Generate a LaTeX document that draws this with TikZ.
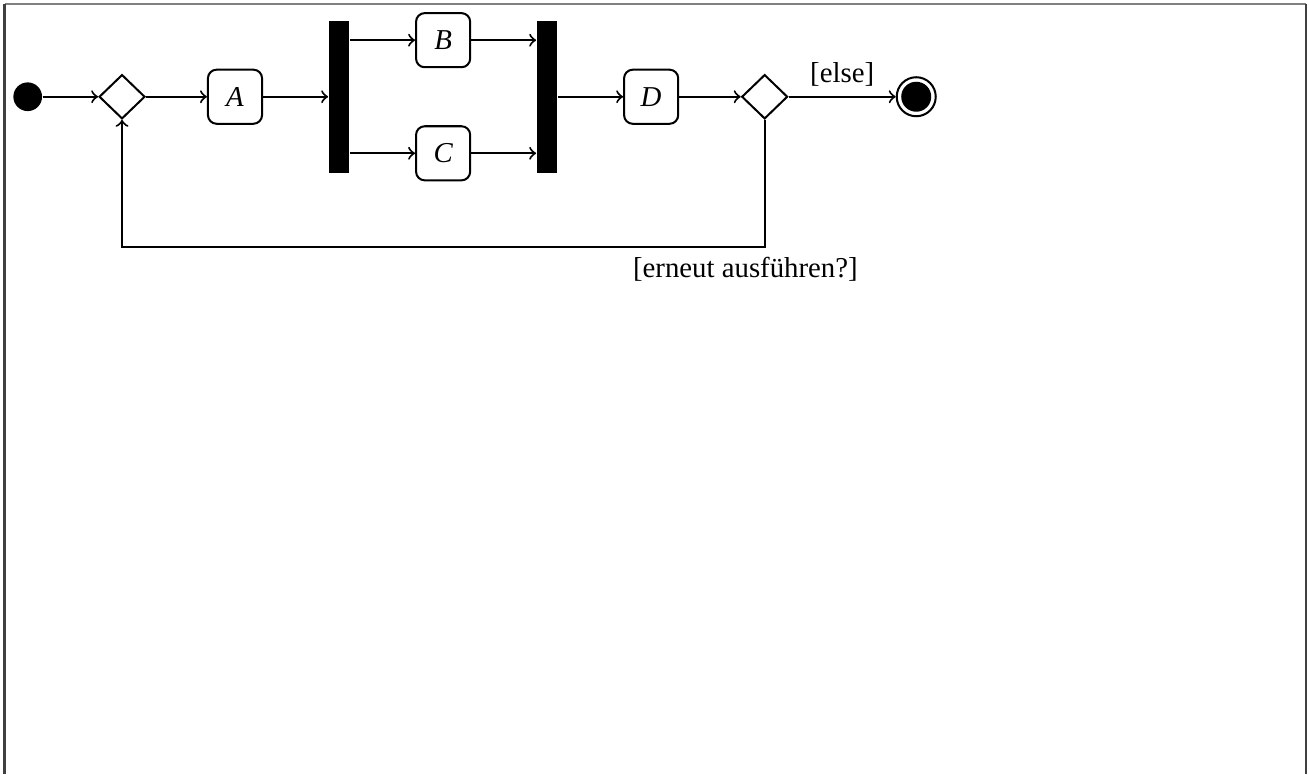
\documentclass[tikz,border=0pt]{standalone}
\usepackage{fontspec}
\setmainfont{Liberation Serif}
\usepackage{tikz}
\usetikzlibrary{shapes.geometric}

\begin{document}
\begin{tikzpicture}[line width=0.7pt,
    action/.style={draw, rectangle, rounded corners=3pt, minimum size=0.66cm, inner sep=1pt, font=\itshape},
    decision/.style={draw, diamond, minimum width=0.56cm, minimum height=0.54cm, inner sep=0pt},
    bar/.style={fill=black, rectangle, minimum width=0.244cm, minimum height=1.855cm, inner sep=0pt}]
    \useasboundingbox (-0.338,-8.263) rectangle (15.632,1.18);
    % Page frame
    \draw[gray, line width=0.7pt] (-0.283,1.134) -- (15.60,1.134);
    \draw[darkgray, line width=0.7pt] (-0.283,1.134) -- (-0.283,-8.263);
    \draw[darkgray, line width=0.7pt] (15.60,1.134) -- (15.60,-8.263);

    % Nodes
    \node[circle, fill=black, minimum size=0.35cm, inner sep=0pt] (start) at (0,0) {};
    \node[decision] (merge) at (1.151,0) {};
    \node[action] (a) at (2.529,0) {A};
    \node[bar] (fork) at (3.799,0) {};
    \node[action] (b) at (5.068,0.69) {B};
    \node[action] (c) at (5.068,-0.69) {C};
    \node[bar] (join) at (6.337,0) {};
    \node[action] (d) at (7.606,0) {D};
    \node[decision] (check) at (8.991,0) {};
    \node[circle, draw, minimum size=0.476cm, inner sep=0pt] (final) at (10.840,0) {};
    \node[circle, fill=black, minimum size=0.366cm, inner sep=0pt] at (final) {};
    \coordinate (back) at (0,-1.834);

    % Flow
    \draw[->] (start) -- (merge);
    \draw[->] (merge) -- (a);
    \draw[->] (a) -- (fork);
    \draw[->] (fork.east |- b) -- (b);
    \draw[->] (fork.east |- c) -- (c);
    \draw[->] (b) -- (join.west |- b);
    \draw[->] (c) -- (join.west |- c);
    \draw[->] (join) -- (d);
    \draw[->] (d) -- (check);
    \draw[->] (check) -- node[above]{[else]} (final);

    % Loop back
    \draw[->] (check.south) -- (check.south |- back) -- node[below, pos=0.03]{[erneut ausführen?]} (merge.south |- back) -- (merge.south);
\end{tikzpicture}
\end{document}
